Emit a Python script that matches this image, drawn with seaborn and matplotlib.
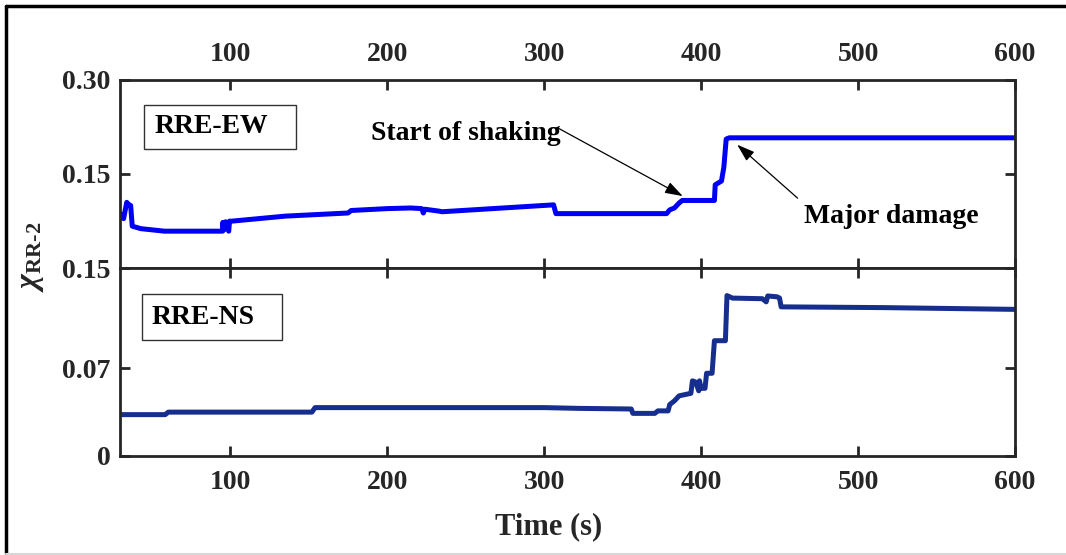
import numpy as np
import pandas as pd
import matplotlib
matplotlib.use("Agg")
import matplotlib.pyplot as plt
from matplotlib.lines import Line2D
from matplotlib.patches import Rectangle
import seaborn as sns

# ---- data ----
t_ew = [30, 32, 34, 35.5, 36.5, 37.5, 43, 58, 95, 95.2, 96, 97, 99, 99.5, 101,
        135, 175, 177, 200, 215, 222, 223, 224, 233, 235, 306, 307.5, 378, 380,
        383, 386, 388, 408.5, 409, 413, 414.5, 416, 418, 600]
v_ew = [0.086, 0.078, 0.104, 0.100, 0.099, 0.066, 0.062, 0.058, 0.058, 0.072,
        0.060, 0.073, 0.058, 0.074, 0.074, 0.082, 0.087, 0.091, 0.094, 0.095,
        0.094, 0.087, 0.093, 0.090, 0.089, 0.100, 0.086, 0.086, 0.092, 0.095,
        0.103, 0.107, 0.107, 0.132, 0.138, 0.160, 0.205, 0.207, 0.207]

t_ns = [30, 58.5, 60.5, 152, 154, 300, 322, 355.5, 356.5, 370.5, 372.5, 379,
        380, 383, 386, 393.5, 394.5, 396.5, 398.5, 399, 400, 402.5, 403.5, 407,
        408.5, 415.5, 416.5, 420, 439, 441.5, 442.5, 448.5, 450, 451, 516, 600]
v_ns = [0.033, 0.033, 0.035, 0.035, 0.0386, 0.0386, 0.0380, 0.0375, 0.034,
        0.034, 0.036, 0.036, 0.041, 0.044, 0.048, 0.050, 0.060, 0.059, 0.052,
        0.060, 0.054, 0.054, 0.066, 0.066, 0.092, 0.092, 0.128, 0.126, 0.1255,
        0.123, 0.1277, 0.127, 0.126, 0.119, 0.1184, 0.117]

x_ticks = [100, 200, 300, 400, 500, 600]
ew_yticks = [0.15, 0.30]
ew_yticklabels = ["0.15", "0.30"]
ns_yticks = [0, 0.07, 0.15]
ns_yticklabels = ["0", "0.07", "0.15"]
panel_labels = ["RRE-EW", "RRE-NS"]
ann_shaking = "Start of shaking"
ann_damage = "Major damage"
x_label = "Time (s)"
y_label = r"$\chi_{\mathbf{RR\text{-}2}}$"

# ---- style ----
sns.set_theme(style="ticks")
plt.rcParams["font.family"] = ["Liberation Serif", "DejaVu Serif"]
plt.rcParams["font.weight"] = "bold"
plt.rcParams["mathtext.fontset"] = "custom"
plt.rcParams["mathtext.rm"] = "Liberation Serif"
plt.rcParams["mathtext.it"] = "Liberation Serif:italic"
plt.rcParams["mathtext.bf"] = "Liberation Serif:bold"

fig = plt.figure(figsize=(10.66, 5.55), dpi=100)
fig.patch.set_facecolor("white")

L, W = 0.1130, 0.8391
ax1 = fig.add_axes([L, 0.518, W, 0.3387])
ax2 = fig.add_axes([L, 0.1784, W, 0.3387])

df_ew = pd.DataFrame({"t": t_ew, "v": v_ew})
df_ns = pd.DataFrame({"t": t_ns, "v": v_ns})

sns.lineplot(data=df_ew, x="t", y="v", ax=ax1, sort=False, estimator=None,
             color="#0000f5", linewidth=3.6, solid_joinstyle="round")
sns.lineplot(data=df_ns, x="t", y="v", ax=ax2, sort=False, estimator=None,
             color="#162e8e", linewidth=3.6, solid_joinstyle="round")

spine_col = "#262626"
for ax in (ax1, ax2):
    ax.set_xlim(30, 600)
    ax.set_xticks(x_ticks)
    ax.set_xlabel("")
    ax.set_ylabel("")
    ax.set_facecolor("white")
    for s in ax.spines.values():
        s.set_visible(True)
        s.set_linewidth(2.0)
        s.set_color(spine_col)
    ax.tick_params(direction="in", length=7, width=2.0, color=spine_col,
                   top=True, right=True, labelsize=20, labelcolor="#262626",
                   pad=7)

ax1.set_ylim(0, 0.30)
ax1.set_yticks(ew_yticks)
ax1.set_yticklabels(ew_yticklabels)
ax1.tick_params(axis="x", labeltop=True, labelbottom=False, pad=9)

ax2.set_ylim(0, 0.15)
ax2.set_yticks(ns_yticks)
ax2.set_yticklabels(ns_yticklabels)
ax2.tick_params(axis="x", labeltop=False, labelbottom=True, pad=10)

# panel label boxes
ax1.add_patch(Rectangle((0.0263, 0.629), 0.170, 0.238, transform=ax1.transAxes,
                        facecolor="white", edgecolor="#333333", lw=1.0, zorder=5))
ax1.text(0.0386, 0.748, panel_labels[0], transform=ax1.transAxes, fontsize=20,
         fontweight="bold", va="center", ha="left", zorder=6, color="black")
ax2.add_patch(Rectangle((0.024, 0.617), 0.157, 0.245, transform=ax2.transAxes,
                        facecolor="white", edgecolor="#333333", lw=1.0, zorder=5))
ax2.text(0.0347, 0.739, panel_labels[1], transform=ax2.transAxes, fontsize=20,
         fontweight="bold", va="center", ha="left", zorder=6, color="black")

# annotations
ax1.text(0.386, 0.714, ann_shaking, transform=ax1.transAxes, fontsize=20,
         fontweight="bold", ha="center", va="center", color="black")
ax1.annotate("", xy=(388.3, 0.114), xycoords="data",
             xytext=(0.488, 0.745), textcoords="axes fraction",
             arrowprops=dict(arrowstyle="-|>,head_length=0.9,head_width=0.3",
                             color="black", lw=0.9, shrinkA=0, shrinkB=0))
ax1.text(0.862, 0.270, ann_damage, transform=ax1.transAxes, fontsize=20,
         fontweight="bold", ha="center", va="center", color="black")
ax1.annotate("", xy=(423.0, 0.196), xycoords="data",
             xytext=(0.757, 0.369), textcoords="axes fraction",
             arrowprops=dict(arrowstyle="-|>,head_length=0.9,head_width=0.3",
                             color="black", lw=0.9, shrinkA=0, shrinkB=0))

# axis labels
fig.text(549 / 1066, 1 - 527 / 555, x_label, fontsize=22, fontweight="bold",
         ha="center", va="center", color="#262626")
fig.text(31 / 1066, 1 - 257 / 555, y_label, fontsize=23, rotation=90,
         ha="center", va="center", color="#262626")

# outer frame
fig.add_artist(Line2D([6 / 1066, 1.0], [1 - 6 / 555, 1 - 6 / 555],
                      transform=fig.transFigure, color="black", lw=2.5))
fig.add_artist(Line2D([6 / 1066, 6 / 1066], [1 - 553 / 555, 1 - 6 / 555],
                      transform=fig.transFigure, color="black", lw=2.5))
fig.add_artist(Line2D([6 / 1066, 1.0], [1 - 553.5 / 555, 1 - 553.5 / 555],
                      transform=fig.transFigure, color="#d8d8d8", lw=1.5))

fig.savefig("out.png", dpi=100, facecolor="white")
